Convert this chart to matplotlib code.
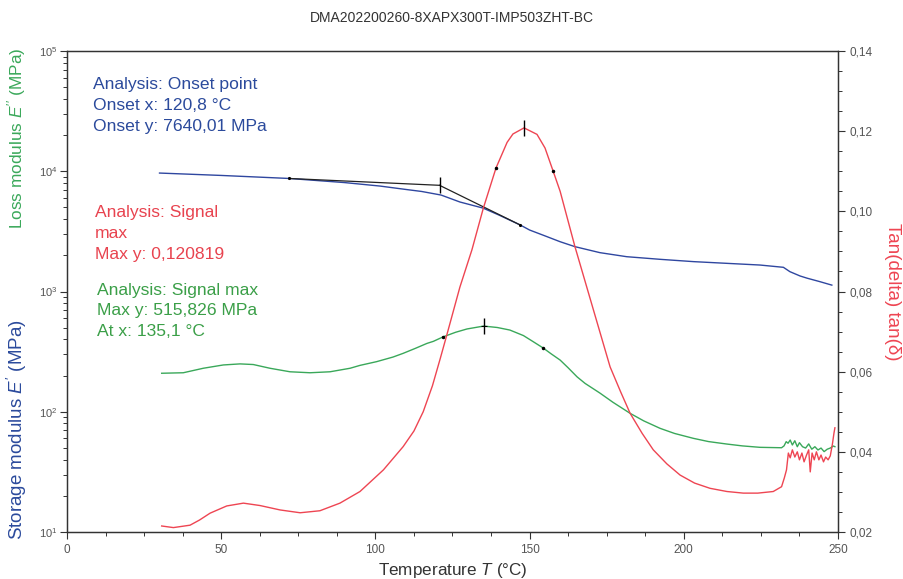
import matplotlib
matplotlib.use("Agg")
import matplotlib.pyplot as plt
from matplotlib.ticker import MultipleLocator, LogLocator, LogFormatterSciNotation
import numpy as np

plt.rcParams['font.family'] = ['Liberation Sans', 'DejaVu Sans']
plt.rcParams['mathtext.fontset'] = 'custom'
plt.rcParams['mathtext.rm'] = 'Liberation Sans'
plt.rcParams['mathtext.it'] = 'Liberation Sans:italic'

title = "DMA202200260-8XAPX300T-IMP503ZHT-BC"

# Storage modulus E' (MPa)
T_storage = [30, 50, 72, 90, 101.5, 110, 115, 121.3, 127.4, 134.9, 140, 147, 150, 155, 159.9, 164.7,
             172.8, 181.5, 192.3, 203.1, 213.9, 224.7, 232.3, 234.4, 237.7, 240, 244, 248]
E_storage = [9660, 9230, 8710, 8050, 7530, 7050, 6790, 6340, 5550, 4940, 4330, 3570, 3245, 2900, 2594, 2360,
             2104, 1947, 1852, 1772, 1715, 1660, 1589, 1462, 1346, 1290, 1210, 1130]

# Loss modulus E'' (MPa)
T_loss = [30.7, 37.7, 44.2, 50.7, 56.1, 60.4, 65.8, 72.3, 78.8, 85.3, 91.8, 95, 100.4, 105.7, 109, 113,
          116.7, 118.8, 121.9, 126, 129.7, 135.1, 139.5, 143.6, 148, 151, 154.4, 157, 159.9, 162.5, 165.4,
          168, 172.8, 177, 182.6, 187, 192.3, 197, 203.1, 208, 213.9, 219, 224.7, 231.7,
          232.5, 233.2, 233.8, 234.5, 235.2, 236.0, 236.8, 237.5, 238.5, 239.5, 240.5, 241.5, 242.5,
          243.5, 244.5, 245.5, 246.5, 247.5, 248.5, 249]
E_loss = [209, 211, 230, 245, 250, 247, 230, 215, 211, 215, 230, 243, 261, 285, 306, 337,
          370, 385, 419, 458, 488, 515.8, 502, 478, 430, 385, 339, 303, 269, 232, 195,
          172, 143, 120, 97, 84, 72.8, 66, 60.1, 56.5, 53.9, 52, 50.6, 50.2,
          52.0, 56.4, 54.7, 58.2, 52.9, 57.4, 51.2, 55.3, 51.2, 49.9, 54.0, 48.8, 51.2,
          48.1, 49.9, 46.6, 48.8, 49.9, 51.9, 51.2]

# tan(delta)
T_tan = [30.7, 34.5, 39.9, 43, 46.4, 51.8, 57.2, 62.6, 69.1, 75.6, 82.0, 88.5, 95.0, 102.6, 109.0,
         112.5, 115.5, 118.5, 121, 123.1, 127.4, 131.3, 135, 139.1, 142.7, 144.6, 148.2, 152.4, 155,
         157.6, 159.9, 164.7, 170.7, 176.1, 179.5, 182.6, 186.5, 190.1, 194.5, 198.8, 203.5, 208.5,
         214, 219.3, 224, 229.0, 231.7, 232.6, 233.3, 233.9,
         234.5, 235.2, 236.0, 236.8, 237.5, 238.3, 239.0, 239.8, 240.5, 241.0, 241.6, 242.3, 243.0,
         243.8, 244.5, 245.3, 246.0, 246.8, 247.5, 248.2, 248.7, 249.0]
tan_d = [0.0215, 0.0211, 0.0217, 0.0230, 0.0247, 0.0265, 0.0272, 0.0266, 0.0255, 0.0248, 0.0253, 0.0272,
         0.0301, 0.0355, 0.0413, 0.0452, 0.0500, 0.0565, 0.0632, 0.0690, 0.0811, 0.0904, 0.1008, 0.1108,
         0.1172, 0.1193, 0.120819, 0.1192, 0.1158, 0.1101, 0.1050, 0.0912, 0.0754, 0.0612, 0.0550,
         0.0496, 0.0446, 0.0405, 0.0370, 0.0342, 0.0322, 0.0309, 0.0301, 0.0297, 0.0297, 0.0301, 0.0313,
         0.0335, 0.0355, 0.0397,
         0.0385, 0.0405, 0.0387, 0.0400, 0.0380, 0.0397, 0.0375, 0.0392, 0.0405, 0.0350, 0.0397,
         0.0380, 0.0400, 0.0380, 0.0392, 0.0375, 0.0387, 0.0380, 0.0390, 0.0420, 0.0447, 0.0460]

# Analysis markers
onset_T, onset_E = 120.8, 7640.01
tangent1_T = [72, 120.8]
tangent1_E = [8710, 7640.01]
tangent2_T = [120.8, 147]
tangent2_E = [7640.01, 3570]
tan_peak_T, tan_peak = 148.2, 0.120819
tan_dots_T = [139.1, 157.6]
tan_dots = [0.1108, 0.1101]
loss_peak_T, loss_peak = 135.1, 515.826
loss_dots_T = [121.9, 154.4]
loss_dots = [419, 339]

BLUE = "#2f47a0"
GREEN = "#3aa85a"
RED = "#ee4552"
TBLUE = "#2b4a9c"
TRED = "#e8434f"
TGREEN = "#3b9f48"
GREY = "#555555"

fig = plt.figure(figsize=(9.04, 5.79), dpi=100)
ax = fig.add_axes([67/904, 1-532/579, (838-67)/904, (532-51)/579])
ax2 = ax.twinx()

ax.set_yscale('log')
ax.set_xlim(0, 250)
ax.set_ylim(10, 1e5)
ax2.set_ylim(0.02, 0.14)

ax.plot(T_storage, E_storage, color=BLUE, lw=1.0, zorder=3)
ax.plot(T_loss, E_loss, color=GREEN, lw=1.0, zorder=3)
ax2.plot(T_tan, tan_d, color=RED, lw=1.0, zorder=3)

ax.plot(tangent1_T, tangent1_E, color='#222222', lw=0.9, zorder=4)
ax.plot(tangent2_T, tangent2_E, color='#222222', lw=0.9, zorder=4)
ax.plot([tangent1_T[0]], [tangent1_E[0]], 'k.', ms=2.5, zorder=5)
ax.plot([tangent2_T[1]], [tangent2_E[1]], 'k.', ms=2.5, zorder=5)
ax.plot([onset_T], [onset_E], 'k|', ms=11, mew=1.0, zorder=5)
ax.plot([loss_peak_T], [loss_peak], 'k|', ms=11, mew=1.0, zorder=5)
ax.plot([loss_peak_T], [loss_peak], 'k_', ms=5, mew=0.8, zorder=5)
ax.plot(loss_dots_T, loss_dots, 'k.', ms=3, zorder=5)
ax2.plot([tan_peak_T], [tan_peak], 'k|', ms=11, mew=1.0, zorder=5)
ax2.plot(tan_dots_T, tan_dots, 'k.', ms=3, zorder=5)

# ticks
ax.xaxis.set_major_locator(MultipleLocator(50))
ax.xaxis.set_minor_locator(MultipleLocator(12.5))
ax.yaxis.set_major_locator(LogLocator(base=10, numticks=10))
ax.yaxis.set_minor_locator(LogLocator(base=10, subs=np.arange(2, 10), numticks=20))
ax.yaxis.set_major_formatter(LogFormatterSciNotation())
ax.yaxis.set_minor_formatter(plt.NullFormatter())
ax2.yaxis.set_major_locator(MultipleLocator(0.02))
ax2.yaxis.set_minor_locator(MultipleLocator(0.005))
ax2.yaxis.set_major_formatter(plt.FuncFormatter(lambda v, p: f"{v:.2f}".replace('.', ',')))

for a in (ax, ax2):
    a.tick_params(which='major', length=5, width=0.8, color='#333333', labelsize=8.5, labelcolor=GREY)
    a.tick_params(which='minor', length=3, width=0.7, color='#333333')
    for s in a.spines.values():
        s.set_color('#333333')
        s.set_linewidth(0.9)
ax.tick_params(axis='y', which='major', labelsize=8, pad=2)

# labels
fig.text(452/904, 1-18/579, title, ha='center', va='center', fontsize=10, color='#333333')
ax.set_xlabel("Temperature $\\it{T}$ (°C)", fontsize=12.3, color='#333333', labelpad=4)
fig.text(17/904, 1-138/579, "Loss modulus $\\it{E''}$ (MPa)", rotation=90, ha='center', va='center',
         fontsize=12.4, color=GREEN)
fig.text(17/904, 1-430/579, "Storage modulus $\\it{E'}$ (MPa)", rotation=90, ha='center', va='center',
         fontsize=13.5, color=TBLUE)
fig.text(893/904, 1-292/579, "Tan(delta) tan(δ)", rotation=-90, ha='center', va='center',
         fontsize=13.5, color=RED)

# annotations
def lines(x, ys, texts, color):
    for y, t in zip(ys, texts):
        fig.text(x/904, 1-y/579, t, ha='left', va='center', fontsize=12.6, color=color)

lines(93, [85, 105, 127], ["Analysis: Onset point", "Onset x: 120,8 °C", "Onset y: 7640,01 MPa"], TBLUE)
lines(95, [213, 234, 255], ["Analysis: Signal", "max", "Max y: 0,120819"], TRED)
lines(97, [291, 311, 331], ["Analysis: Signal max", "Max y: 515,826 MPa", "At x: 135,1 °C"], TGREEN)

fig.savefig("out.png", dpi=100)
